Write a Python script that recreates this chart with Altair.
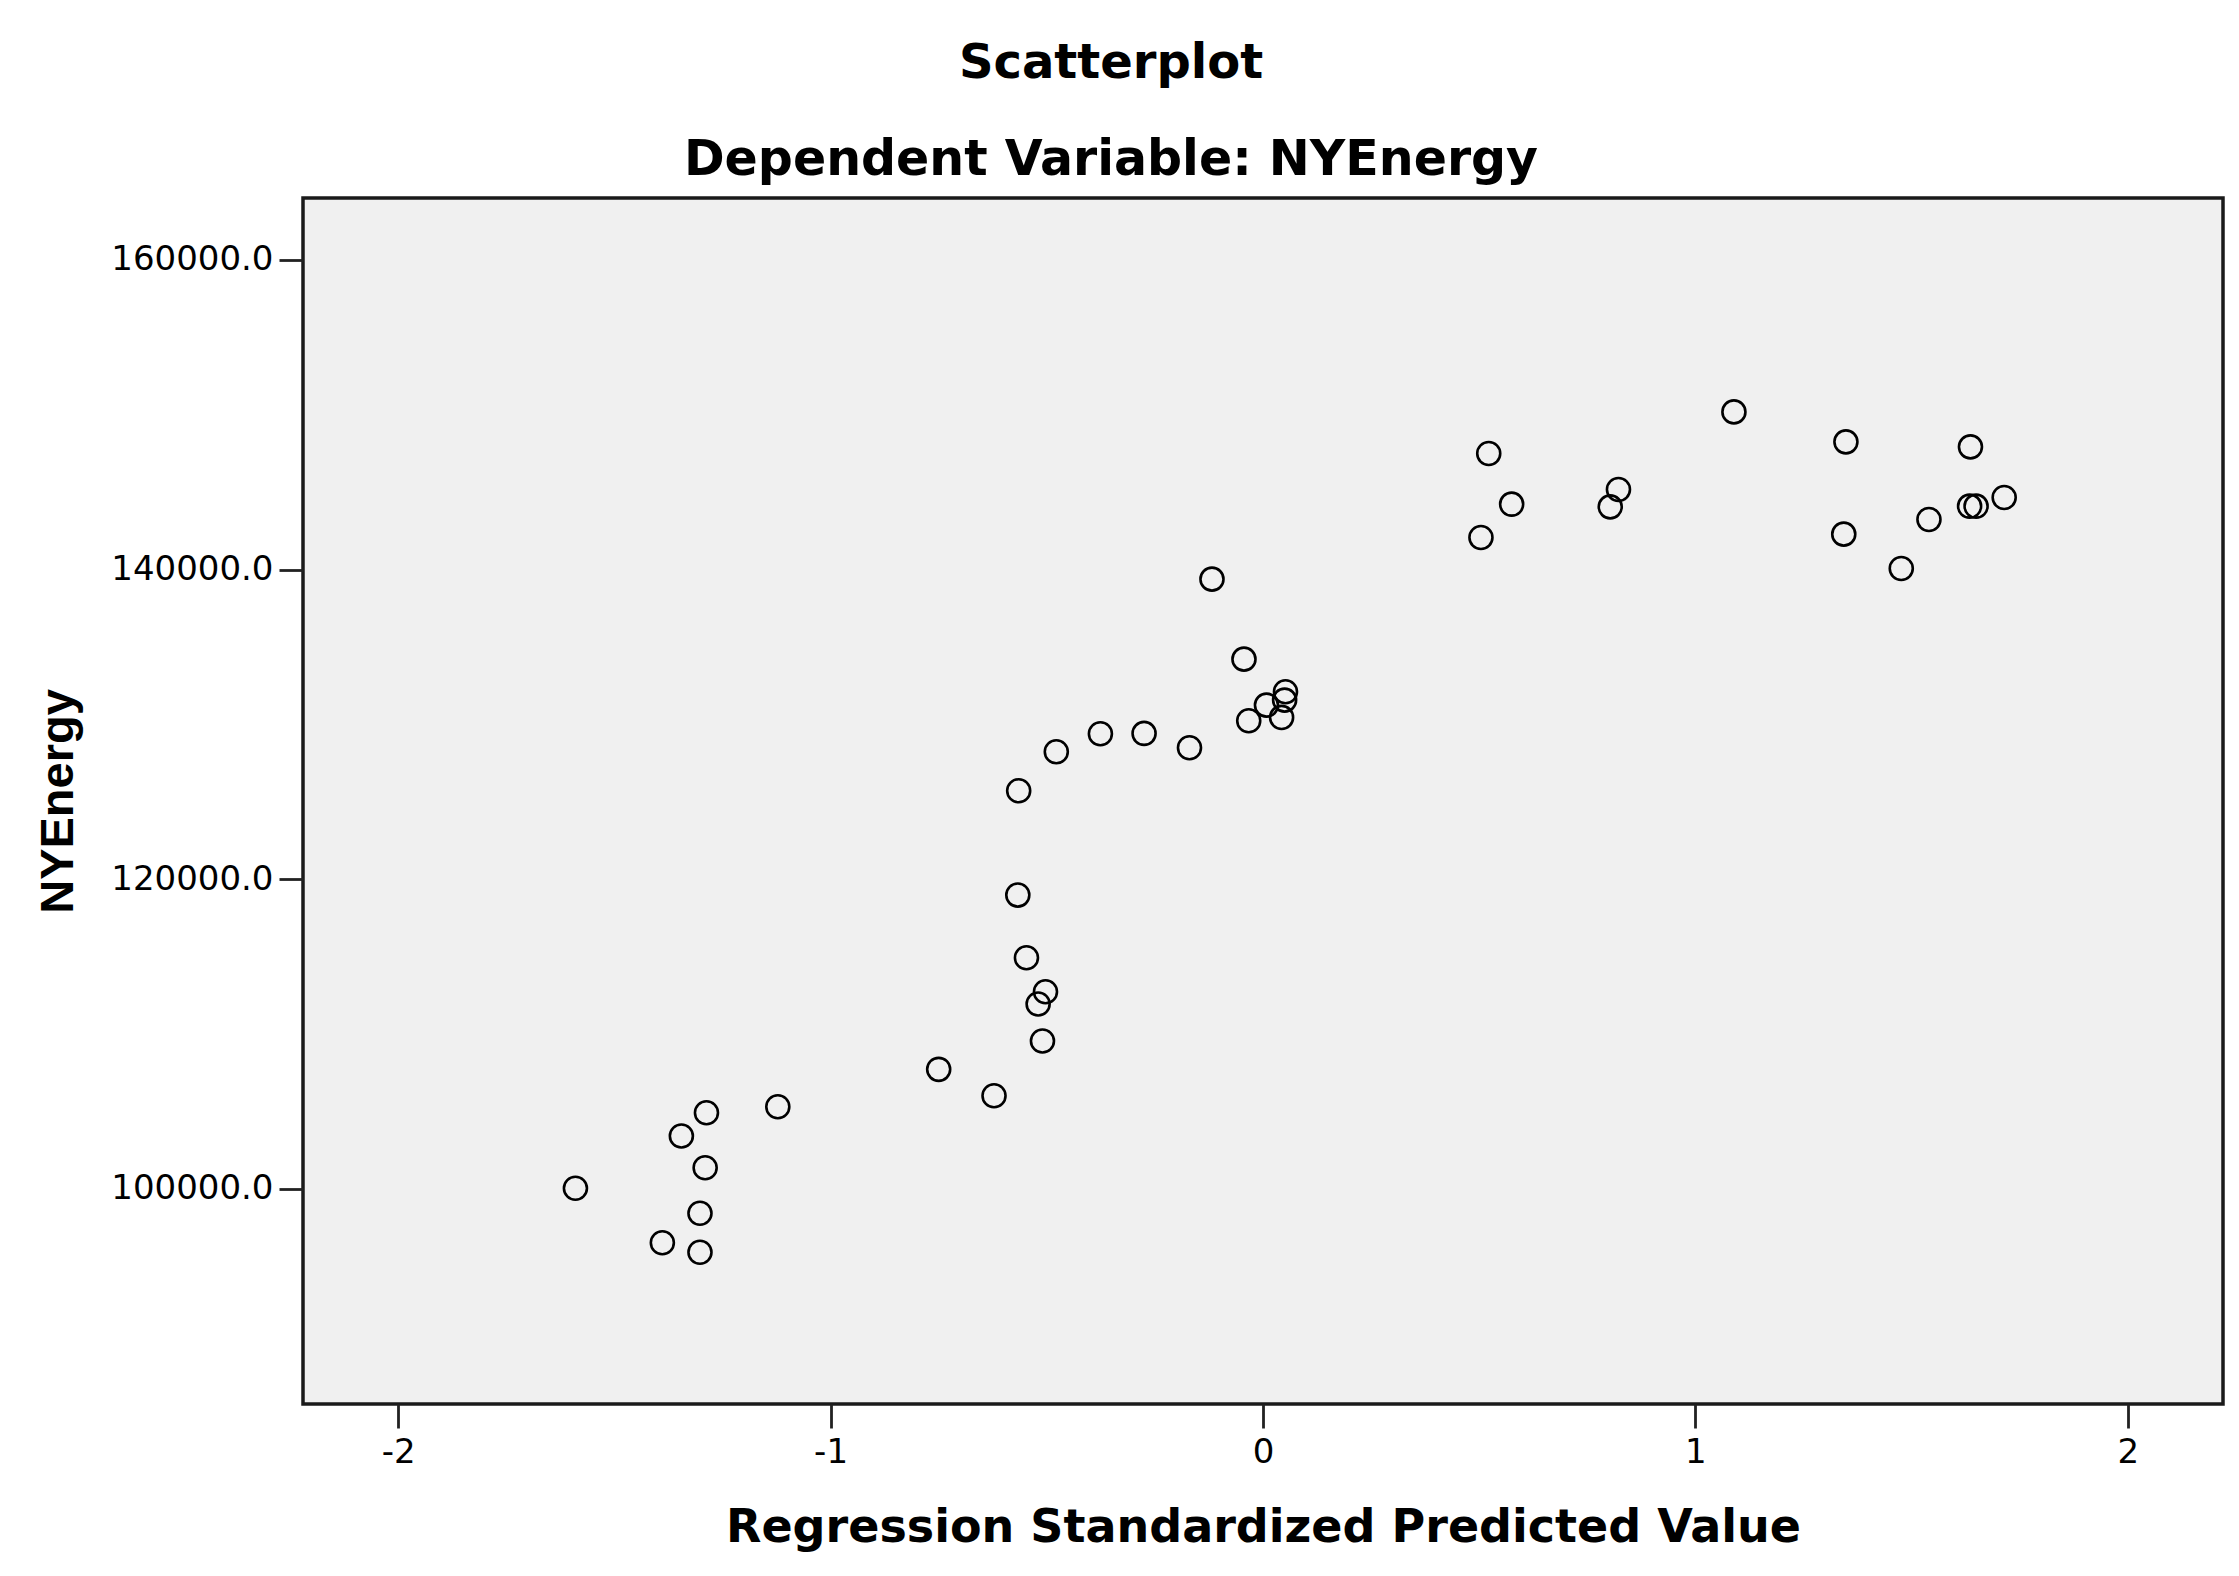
import altair as alt
import pandas as pd

# Regression standardized predicted value (x) and NYEnergy (y)
pred_std = [-0.750, -0.622, -1.287, -1.122, -1.345, -1.290, -1.590, -1.302, -1.389, -1.302,
            -0.567, -0.547, -0.503, -0.520, -0.510,
            -0.118, -0.044, 0.052, 0.050, 0.008, 0.043, -0.033, -0.170, -0.275, -0.376, -0.478, -0.565,
            0.522, 0.575, 0.504, 0.822, 0.803, 1.089, 1.348, 1.343, 1.476, 1.540, 1.636, 1.634, 1.649, 1.714]
ny_energy = [107717, 106012, 104914, 105302, 103410, 101363, 100032, 98418, 96519, 95899,
             118973, 114924, 112729, 111935, 109545,
             139381, 134214, 132103, 131566, 131244, 130449, 130230, 128486, 129416, 129390, 128228, 125709,
             147499, 144224, 142074, 145174, 144050, 150185, 148248, 142287, 140072, 143236, 147925, 144095, 144095, 144657]

x_ticks = [-2, -1, 0, 1, 2]
y_ticks = [100000, 120000, 140000, 160000]

df = pd.DataFrame({"pred": pred_std, "energy": ny_energy})

W, H = 1920, 1206

chart = alt.Chart(df).mark_point(
    shape="circle", filled=False, size=530, strokeWidth=2.6, color="black", opacity=1
).encode(
    x=alt.X("pred:Q", scale=alt.Scale(domain=[-2.22, 2.22], nice=False, zero=False),
            axis=alt.Axis(values=x_ticks, labelExpr="datum.value + ''",
                          title="Regression Standardized Predicted Value",
                          titleFont="DejaVu Sans", titleFontWeight="bold", titleFontSize=46,
                          titleColor="black", titleX=W / 2, titleY=137, titleAlign="center",
                          titleBaseline="alphabetic",
                          labelFont="DejaVu Sans", labelFontSize=34, labelColor="black",
                          labelPadding=7, labelBaseline="top",
                          tickSize=24, tickWidth=2.8, tickColor="#222222",
                          domain=False, grid=False)),
    y=alt.Y("energy:Q", scale=alt.Scale(domain=[86100, 164000], nice=False, zero=False),
            axis=alt.Axis(values=y_ticks, format=".1f",
                          title="NYEnergy",
                          titleFont="Liberation Sans", titleFontWeight="bold",
                          titleFontSize=47, titleColor="black", titleAngle=270,
                          titleX=-231, titleY=H / 2, titleAlign="center", titleBaseline="alphabetic",
                          labelFont="DejaVu Sans", labelFontSize=34, labelColor="black",
                          labelPadding=6, labelBaseline="middle",
                          tickSize=24, tickWidth=2.8, tickColor="#222222",
                          domain=False, grid=False)),
).properties(
    width=W, height=H,
    title=alt.TitleParams(text="Scatterplot", subtitle="Dependent Variable: NYEnergy",
                          font="DejaVu Sans", fontWeight="bold", fontSize=48, color="black",
                          subtitleFont="DejaVu Sans", subtitleFontWeight="bold", subtitleFontSize=49,
                          subtitleColor="black", subtitlePadding=48, anchor="middle",
                          frame="group", dx=-152, offset=13),
    autosize=alt.AutoSizeParams(type="none"),
    padding={"left": 295, "top": 190, "right": 8, "bottom": 150},
).configure(
    background="white",
    view=alt.ViewConfig(fill="#F0F0F0", stroke="#1a1a1a", strokeWidth=3.5),
)

chart.save("out.html", embed_options={"renderer": "svg", "actions": False})
